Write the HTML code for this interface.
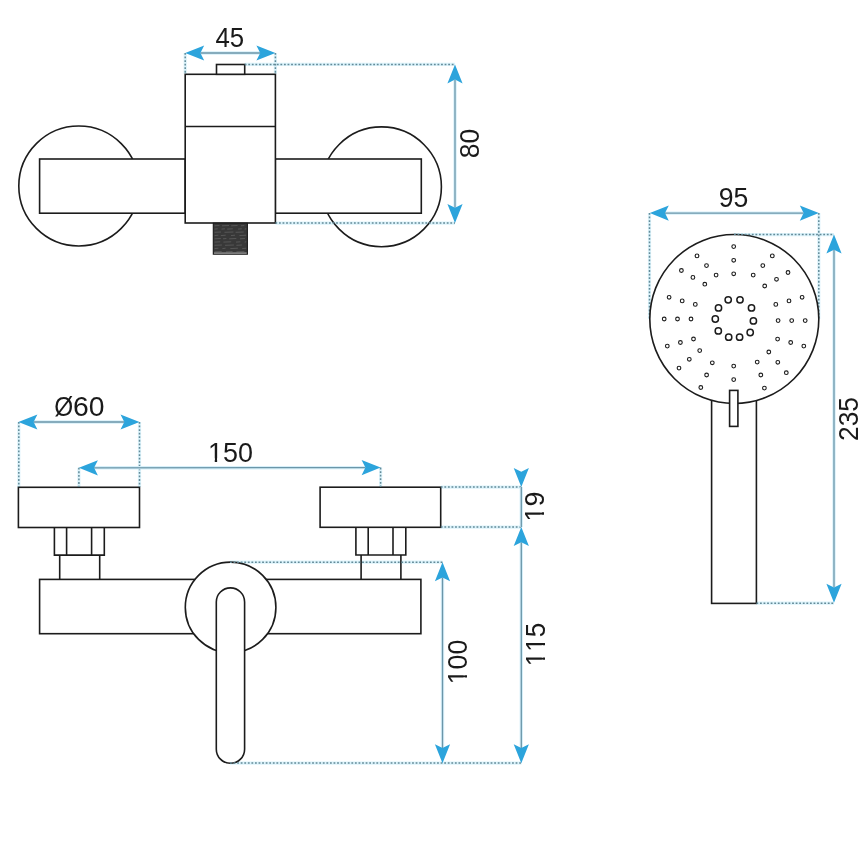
<!DOCTYPE html>
<html><head><meta charset="utf-8"><style>
html,body{margin:0;padding:0;background:#fff;width:868px;height:868px;overflow:hidden}
svg{display:block;will-change:transform}
text{font-family:"Liberation Sans",sans-serif}
</style></head><body>
<svg width="868" height="868" viewBox="0 0 868 868">
<line x1="185.2" y1="53" x2="185.2" y2="74" stroke="#dcf3fb" stroke-width="3.2"/><line x1="275.4" y1="53" x2="275.4" y2="74" stroke="#dcf3fb" stroke-width="3.2"/><line x1="244.7" y1="64.4" x2="455" y2="64.4" stroke="#dcf3fb" stroke-width="3.2"/><line x1="275.4" y1="223.1" x2="455" y2="223.1" stroke="#dcf3fb" stroke-width="3.2"/><line x1="649.5" y1="213" x2="649.5" y2="319" stroke="#dcf3fb" stroke-width="3.2"/><line x1="818.8" y1="213" x2="818.8" y2="319" stroke="#dcf3fb" stroke-width="3.2"/><line x1="734" y1="234.6" x2="834" y2="234.6" stroke="#dcf3fb" stroke-width="3.2"/><line x1="756.4" y1="603.2" x2="834" y2="603.2" stroke="#dcf3fb" stroke-width="3.2"/><line x1="18.8" y1="422" x2="18.8" y2="487" stroke="#dcf3fb" stroke-width="3.2"/><line x1="139.5" y1="422" x2="139.5" y2="487" stroke="#dcf3fb" stroke-width="3.2"/><line x1="78.9" y1="467.8" x2="78.9" y2="487" stroke="#dcf3fb" stroke-width="3.2"/><line x1="380.6" y1="467.6" x2="380.6" y2="487" stroke="#dcf3fb" stroke-width="3.2"/><line x1="440.8" y1="487.1" x2="521.1" y2="487.1" stroke="#dcf3fb" stroke-width="3.2"/><line x1="440.8" y1="527.1" x2="521.1" y2="527.1" stroke="#dcf3fb" stroke-width="3.2"/><line x1="230" y1="562.2" x2="442.5" y2="562.2" stroke="#dcf3fb" stroke-width="3.2"/><line x1="230" y1="763.1" x2="521.5" y2="763.1" stroke="#dcf3fb" stroke-width="3.2"/>
<circle cx="78.8" cy="186.0" r="60.0" fill="none" stroke="#1c1c1c" stroke-width="1.6"/>
<circle cx="381.5" cy="186.8" r="59.9" fill="none" stroke="#1c1c1c" stroke-width="1.6"/>
<rect x="39.6" y="159.0" width="145.6" height="54.2" fill="#fff" stroke="#1c1c1c" stroke-width="1.6"/>
<rect x="275.3" y="159.0" width="146.0" height="54.2" fill="#fff" stroke="#1c1c1c" stroke-width="1.6"/>
<rect x="185.2" y="74.3" width="90.2" height="148.7" fill="#fff" stroke="#1c1c1c" stroke-width="1.6"/>
<line x1="185.2" y1="126.5" x2="275.4" y2="126.5" stroke="#1c1c1c" stroke-width="1.6" />
<rect x="216.5" y="64.5" width="28.2" height="9.8" fill="#fff" stroke="#1c1c1c" stroke-width="1.6"/>
<rect x="213.3" y="223.2" width="34.1" height="31" fill="#383838" stroke="#1c1c1c" stroke-width="1.1"/>
<line x1="214.5" y1="225.8" x2="219.4" y2="225.5" stroke="#5e5e5e" stroke-width="0.8"/>
<line x1="222.0" y1="225.8" x2="229.0" y2="225.5" stroke="#5e5e5e" stroke-width="0.8"/>
<line x1="231.2" y1="225.8" x2="237.5" y2="225.5" stroke="#5e5e5e" stroke-width="0.8"/>
<line x1="240.9" y1="225.8" x2="244.3" y2="225.5" stroke="#5e5e5e" stroke-width="0.8"/>
<line x1="214.5" y1="229.1" x2="217.7" y2="228.8" stroke="#5e5e5e" stroke-width="0.8"/>
<line x1="221.5" y1="229.1" x2="224.9" y2="228.8" stroke="#5e5e5e" stroke-width="0.8"/>
<line x1="227.2" y1="229.1" x2="232.8" y2="228.8" stroke="#5e5e5e" stroke-width="0.8"/>
<line x1="238.1" y1="229.1" x2="241.8" y2="228.8" stroke="#5e5e5e" stroke-width="0.8"/>
<line x1="244.7" y1="229.1" x2="246.3" y2="228.8" stroke="#5e5e5e" stroke-width="0.8"/>
<line x1="214.5" y1="232.3" x2="221.0" y2="232.0" stroke="#5e5e5e" stroke-width="0.8"/>
<line x1="224.5" y1="232.3" x2="233.4" y2="232.0" stroke="#5e5e5e" stroke-width="0.8"/>
<line x1="235.6" y1="232.3" x2="243.7" y2="232.0" stroke="#5e5e5e" stroke-width="0.8"/>
<line x1="214.5" y1="235.6" x2="218.4" y2="235.2" stroke="#5e5e5e" stroke-width="0.8"/>
<line x1="220.8" y1="235.6" x2="225.7" y2="235.2" stroke="#5e5e5e" stroke-width="0.8"/>
<line x1="231.0" y1="235.6" x2="235.0" y2="235.2" stroke="#5e5e5e" stroke-width="0.8"/>
<line x1="239.4" y1="235.6" x2="246.2" y2="235.2" stroke="#5e5e5e" stroke-width="0.8"/>
<line x1="214.5" y1="238.8" x2="220.8" y2="238.5" stroke="#5e5e5e" stroke-width="0.8"/>
<line x1="223.0" y1="238.8" x2="226.4" y2="238.5" stroke="#5e5e5e" stroke-width="0.8"/>
<line x1="229.2" y1="238.8" x2="236.3" y2="238.5" stroke="#5e5e5e" stroke-width="0.8"/>
<line x1="240.0" y1="238.8" x2="244.9" y2="238.5" stroke="#5e5e5e" stroke-width="0.8"/>
<line x1="214.5" y1="242.1" x2="220.2" y2="241.8" stroke="#5e5e5e" stroke-width="0.8"/>
<line x1="223.4" y1="242.1" x2="231.2" y2="241.8" stroke="#5e5e5e" stroke-width="0.8"/>
<line x1="236.0" y1="242.1" x2="240.4" y2="241.8" stroke="#5e5e5e" stroke-width="0.8"/>
<line x1="244.7" y1="242.1" x2="246.3" y2="241.8" stroke="#5e5e5e" stroke-width="0.8"/>
<line x1="214.5" y1="245.3" x2="221.9" y2="245.0" stroke="#5e5e5e" stroke-width="0.8"/>
<line x1="225.0" y1="245.3" x2="233.9" y2="245.0" stroke="#5e5e5e" stroke-width="0.8"/>
<line x1="236.4" y1="245.3" x2="241.9" y2="245.0" stroke="#5e5e5e" stroke-width="0.8"/>
<line x1="214.5" y1="248.6" x2="218.4" y2="248.2" stroke="#5e5e5e" stroke-width="0.8"/>
<line x1="222.4" y1="248.6" x2="225.6" y2="248.2" stroke="#5e5e5e" stroke-width="0.8"/>
<line x1="230.3" y1="248.6" x2="237.9" y2="248.2" stroke="#5e5e5e" stroke-width="0.8"/>
<line x1="242.2" y1="248.6" x2="246.3" y2="248.2" stroke="#5e5e5e" stroke-width="0.8"/>
<line x1="214.5" y1="251.8" x2="221.7" y2="251.5" stroke="#5e5e5e" stroke-width="0.8"/>
<line x1="226.0" y1="251.8" x2="232.5" y2="251.5" stroke="#5e5e5e" stroke-width="0.8"/>
<line x1="236.4" y1="251.8" x2="244.4" y2="251.5" stroke="#5e5e5e" stroke-width="0.8"/>
<line x1="214" y1="253.1" x2="246.7" y2="253.1" stroke="#eeeeee" stroke-width="0.7"/>
<line x1="185.2" y1="53" x2="185.2" y2="74" stroke="#638a98" stroke-width="1.5" stroke-dasharray="1.8 1.77"/>
<line x1="275.4" y1="53" x2="275.4" y2="74" stroke="#638a98" stroke-width="1.5" stroke-dasharray="1.8 1.77"/>
<line x1="200.39999999999998" y1="53.0" x2="260.2" y2="53.0" stroke="#d6eff9" stroke-width="3.4" />
<line x1="200.39999999999998" y1="53.0" x2="260.2" y2="53.0" stroke="#6b96a9" stroke-width="1.3" />
<path d="M185.20,53.00 L204.20,45.40 L200.40,53.00 L204.20,60.60Z" fill="#2ca4dc"/>
<path d="M275.40,53.00 L256.40,60.60 L260.20,53.00 L256.40,45.40Z" fill="#2ca4dc"/>
<line x1="244.7" y1="64.4" x2="455" y2="64.4" stroke="#638a98" stroke-width="1.5" stroke-dasharray="1.8 1.77"/>
<line x1="275.4" y1="223.1" x2="455" y2="223.1" stroke="#638a98" stroke-width="1.5" stroke-dasharray="1.8 1.77"/>
<line x1="455.0" y1="79.60000000000001" x2="455.0" y2="207.8" stroke="#d6eff9" stroke-width="3.4" />
<line x1="455.0" y1="79.60000000000001" x2="455.0" y2="207.8" stroke="#6b96a9" stroke-width="1.3" />
<path d="M455.00,64.40 L462.60,83.40 L455.00,79.60 L447.40,83.40Z" fill="#2ca4dc"/>
<path d="M455.00,223.00 L447.40,204.00 L455.00,207.80 L462.60,204.00Z" fill="#2ca4dc"/>
<line x1="649.5" y1="213" x2="649.5" y2="319" stroke="#638a98" stroke-width="1.5" stroke-dasharray="1.8 1.77"/>
<line x1="818.8" y1="213" x2="818.8" y2="319" stroke="#638a98" stroke-width="1.5" stroke-dasharray="1.8 1.77"/>
<line x1="665.0" y1="213.1" x2="803.5999999999999" y2="213.1" stroke="#d6eff9" stroke-width="3.4" />
<line x1="665.0" y1="213.1" x2="803.5999999999999" y2="213.1" stroke="#6b96a9" stroke-width="1.3" />
<path d="M649.80,213.10 L668.80,205.50 L665.00,213.10 L668.80,220.70Z" fill="#2ca4dc"/>
<path d="M818.80,213.10 L799.80,220.70 L803.60,213.10 L799.80,205.50Z" fill="#2ca4dc"/>
<rect x="711.6" y="380" width="44.8" height="223.4" fill="#fff" stroke="#1c1c1c" stroke-width="1.6"/>
<circle cx="734.3" cy="319.0" r="84.5" fill="#fff" stroke="#1c1c1c" stroke-width="1.6"/>
<rect x="729.6" y="390.4" width="8.3" height="36" fill="#fff" stroke="#1c1c1c" stroke-width="1.6"/>
<line x1="734" y1="234.6" x2="834" y2="234.6" stroke="#638a98" stroke-width="1.5" stroke-dasharray="1.8 1.77"/>
<line x1="756.4" y1="603.2" x2="834" y2="603.2" stroke="#638a98" stroke-width="1.5" stroke-dasharray="1.8 1.77"/>
<line x1="834.0" y1="249.79999999999998" x2="834.0" y2="587.5999999999999" stroke="#d6eff9" stroke-width="3.4" />
<line x1="834.0" y1="249.79999999999998" x2="834.0" y2="587.5999999999999" stroke="#6b96a9" stroke-width="1.3" />
<path d="M834.00,234.60 L841.60,253.60 L834.00,249.80 L826.40,253.60Z" fill="#2ca4dc"/>
<path d="M834.00,602.80 L826.40,583.80 L834.00,587.60 L841.60,583.80Z" fill="#2ca4dc"/>
<circle cx="733.7" cy="246.6" r="1.85" fill="none" stroke="#1c1c1c" stroke-width="1.1"/>
<circle cx="733.7" cy="260.3" r="1.85" fill="none" stroke="#1c1c1c" stroke-width="1.1"/>
<circle cx="733.7" cy="273.8" r="1.85" fill="none" stroke="#1c1c1c" stroke-width="1.1"/>
<circle cx="697.0" cy="255.9" r="1.85" fill="none" stroke="#1c1c1c" stroke-width="1.1"/>
<circle cx="706.5" cy="265.6" r="1.85" fill="none" stroke="#1c1c1c" stroke-width="1.1"/>
<circle cx="716.1" cy="275.1" r="1.85" fill="none" stroke="#1c1c1c" stroke-width="1.1"/>
<circle cx="681.4" cy="270.5" r="1.85" fill="none" stroke="#1c1c1c" stroke-width="1.1"/>
<circle cx="692.9" cy="277.4" r="1.85" fill="none" stroke="#1c1c1c" stroke-width="1.1"/>
<circle cx="704.8" cy="284.2" r="1.85" fill="none" stroke="#1c1c1c" stroke-width="1.1"/>
<circle cx="669.1" cy="297.3" r="1.85" fill="none" stroke="#1c1c1c" stroke-width="1.1"/>
<circle cx="682.2" cy="300.9" r="1.85" fill="none" stroke="#1c1c1c" stroke-width="1.1"/>
<circle cx="695.3" cy="304.4" r="1.85" fill="none" stroke="#1c1c1c" stroke-width="1.1"/>
<circle cx="664.2" cy="319.0" r="1.85" fill="none" stroke="#1c1c1c" stroke-width="1.1"/>
<circle cx="677.5" cy="319.0" r="1.85" fill="none" stroke="#1c1c1c" stroke-width="1.1"/>
<circle cx="691.0" cy="319.0" r="1.85" fill="none" stroke="#1c1c1c" stroke-width="1.1"/>
<circle cx="772.3" cy="255.9" r="1.85" fill="none" stroke="#1c1c1c" stroke-width="1.1"/>
<circle cx="762.8" cy="265.6" r="1.85" fill="none" stroke="#1c1c1c" stroke-width="1.1"/>
<circle cx="753.2" cy="275.1" r="1.85" fill="none" stroke="#1c1c1c" stroke-width="1.1"/>
<circle cx="788.0" cy="272.5" r="1.85" fill="none" stroke="#1c1c1c" stroke-width="1.1"/>
<circle cx="776.5" cy="279.3" r="1.85" fill="none" stroke="#1c1c1c" stroke-width="1.1"/>
<circle cx="764.7" cy="286.0" r="1.85" fill="none" stroke="#1c1c1c" stroke-width="1.1"/>
<circle cx="802.1" cy="297.3" r="1.85" fill="none" stroke="#1c1c1c" stroke-width="1.1"/>
<circle cx="789.0" cy="300.9" r="1.85" fill="none" stroke="#1c1c1c" stroke-width="1.1"/>
<circle cx="775.8" cy="304.4" r="1.85" fill="none" stroke="#1c1c1c" stroke-width="1.1"/>
<circle cx="805.2" cy="320.6" r="1.85" fill="none" stroke="#1c1c1c" stroke-width="1.1"/>
<circle cx="791.7" cy="320.6" r="1.85" fill="none" stroke="#1c1c1c" stroke-width="1.1"/>
<circle cx="778.1" cy="320.6" r="1.85" fill="none" stroke="#1c1c1c" stroke-width="1.1"/>
<circle cx="667.3" cy="346.1" r="1.85" fill="none" stroke="#1c1c1c" stroke-width="1.1"/>
<circle cx="680.4" cy="342.5" r="1.85" fill="none" stroke="#1c1c1c" stroke-width="1.1"/>
<circle cx="693.5" cy="339.0" r="1.85" fill="none" stroke="#1c1c1c" stroke-width="1.1"/>
<circle cx="679.0" cy="368.1" r="1.85" fill="none" stroke="#1c1c1c" stroke-width="1.1"/>
<circle cx="689.3" cy="359.3" r="1.85" fill="none" stroke="#1c1c1c" stroke-width="1.1"/>
<circle cx="699.7" cy="350.6" r="1.85" fill="none" stroke="#1c1c1c" stroke-width="1.1"/>
<circle cx="700.8" cy="387.5" r="1.85" fill="none" stroke="#1c1c1c" stroke-width="1.1"/>
<circle cx="706.6" cy="375.0" r="1.85" fill="none" stroke="#1c1c1c" stroke-width="1.1"/>
<circle cx="712.3" cy="362.8" r="1.85" fill="none" stroke="#1c1c1c" stroke-width="1.1"/>
<circle cx="733.7" cy="366.1" r="1.85" fill="none" stroke="#1c1c1c" stroke-width="1.1"/>
<circle cx="733.7" cy="379.6" r="1.85" fill="none" stroke="#1c1c1c" stroke-width="1.1"/>
<circle cx="777.6" cy="339.1" r="1.85" fill="none" stroke="#1c1c1c" stroke-width="1.1"/>
<circle cx="790.7" cy="342.5" r="1.85" fill="none" stroke="#1c1c1c" stroke-width="1.1"/>
<circle cx="803.8" cy="346.1" r="1.85" fill="none" stroke="#1c1c1c" stroke-width="1.1"/>
<circle cx="768.8" cy="352.0" r="1.85" fill="none" stroke="#1c1c1c" stroke-width="1.1"/>
<circle cx="777.8" cy="362.3" r="1.85" fill="none" stroke="#1c1c1c" stroke-width="1.1"/>
<circle cx="786.3" cy="372.7" r="1.85" fill="none" stroke="#1c1c1c" stroke-width="1.1"/>
<circle cx="757.2" cy="362.1" r="1.85" fill="none" stroke="#1c1c1c" stroke-width="1.1"/>
<circle cx="760.8" cy="375.0" r="1.85" fill="none" stroke="#1c1c1c" stroke-width="1.1"/>
<circle cx="764.4" cy="388.1" r="1.85" fill="none" stroke="#1c1c1c" stroke-width="1.1"/>
<circle cx="728.2" cy="299.8" r="3.15" fill="none" stroke="#1c1c1c" stroke-width="1.5"/>
<circle cx="740.0" cy="299.8" r="3.15" fill="none" stroke="#1c1c1c" stroke-width="1.5"/>
<circle cx="718.5" cy="307.9" r="3.15" fill="none" stroke="#1c1c1c" stroke-width="1.5"/>
<circle cx="751.5" cy="307.9" r="3.15" fill="none" stroke="#1c1c1c" stroke-width="1.5"/>
<circle cx="715.3" cy="319.0" r="3.15" fill="none" stroke="#1c1c1c" stroke-width="1.5"/>
<circle cx="753.4" cy="320.9" r="3.15" fill="none" stroke="#1c1c1c" stroke-width="1.5"/>
<circle cx="718.3" cy="330.9" r="3.15" fill="none" stroke="#1c1c1c" stroke-width="1.5"/>
<circle cx="750.2" cy="332.5" r="3.15" fill="none" stroke="#1c1c1c" stroke-width="1.5"/>
<circle cx="728.7" cy="337.2" r="3.15" fill="none" stroke="#1c1c1c" stroke-width="1.5"/>
<circle cx="739.6" cy="337.2" r="3.15" fill="none" stroke="#1c1c1c" stroke-width="1.5"/>
<rect x="18.4" y="487.3" width="121.1" height="40.2" fill="#fff" stroke="#1c1c1c" stroke-width="1.6"/>
<rect x="320.1" y="487.2" width="120.6" height="40.1" fill="#fff" stroke="#1c1c1c" stroke-width="1.6"/>
<path d="M54.4,527.3 V555.1 H104.3 V527.3" fill="none" stroke="#1c1c1c" stroke-width="1.6" stroke-linejoin="miter"/>
<line x1="66.6" y1="527.3" x2="66.6" y2="555.1" stroke="#1c1c1c" stroke-width="1.6" />
<line x1="91.6" y1="527.3" x2="91.6" y2="555.1" stroke="#1c1c1c" stroke-width="1.6" />
<path d="M59.7,555.1 V579.4 M99.7,555.1 V579.4" fill="none" stroke="#1c1c1c" stroke-width="1.6" stroke-linejoin="miter"/>
<path d="M355.9,527.3 V555.0 H405.8 V527.3" fill="none" stroke="#1c1c1c" stroke-width="1.6" stroke-linejoin="miter"/>
<line x1="368.2" y1="527.3" x2="368.2" y2="555.0" stroke="#1c1c1c" stroke-width="1.6" />
<line x1="393.0" y1="527.3" x2="393.0" y2="555.0" stroke="#1c1c1c" stroke-width="1.6" />
<path d="M361.1,555.0 V579.4 M400.9,555.0 V579.4" fill="none" stroke="#1c1c1c" stroke-width="1.6" stroke-linejoin="miter"/>
<rect x="39.6" y="579.4" width="381.3" height="54.3" fill="#fff" stroke="#1c1c1c" stroke-width="1.6"/>
<circle cx="230.6" cy="607.4" r="45.3" fill="#fff" stroke="#1c1c1c" stroke-width="1.6"/>
<rect x="216.3" y="587.9" width="28.3" height="175.4" rx="14.15" ry="14.15" fill="#fff" stroke="#1c1c1c" stroke-width="1.6"/>
<line x1="18.8" y1="422" x2="18.8" y2="487" stroke="#638a98" stroke-width="1.5" stroke-dasharray="1.8 1.77"/>
<line x1="139.5" y1="422" x2="139.5" y2="487" stroke="#638a98" stroke-width="1.5" stroke-dasharray="1.8 1.77"/>
<line x1="33.599999999999994" y1="422.0" x2="124.3" y2="422.0" stroke="#d6eff9" stroke-width="3.4" />
<line x1="33.599999999999994" y1="422.0" x2="124.3" y2="422.0" stroke="#6b96a9" stroke-width="1.3" />
<path d="M18.40,422.00 L37.40,414.40 L33.60,422.00 L37.40,429.60Z" fill="#2ca4dc"/>
<path d="M139.50,422.00 L120.50,429.60 L124.30,422.00 L120.50,414.40Z" fill="#2ca4dc"/>
<line x1="78.9" y1="467.8" x2="78.9" y2="487" stroke="#638a98" stroke-width="1.5" stroke-dasharray="1.8 1.77"/>
<line x1="380.6" y1="467.6" x2="380.6" y2="487" stroke="#638a98" stroke-width="1.5" stroke-dasharray="1.8 1.77"/>
<line x1="94.09999666018186" y1="467.7899237675438" x2="365.40000333981817" y2="467.6100762324562" stroke="#d6eff9" stroke-width="3.4" />
<line x1="94.09999666018186" y1="467.7899237675438" x2="365.40000333981817" y2="467.6100762324562" stroke="#6b96a9" stroke-width="1.3" />
<path d="M78.90,467.80 L97.89,460.19 L94.10,467.79 L97.91,475.39Z" fill="#2ca4dc"/>
<path d="M380.60,467.60 L361.61,475.21 L365.40,467.61 L361.59,460.01Z" fill="#2ca4dc"/>
<line x1="440.8" y1="487.1" x2="521.1" y2="487.1" stroke="#638a98" stroke-width="1.5" stroke-dasharray="1.8 1.77"/>
<line x1="440.8" y1="527.1" x2="521.1" y2="527.1" stroke="#638a98" stroke-width="1.5" stroke-dasharray="1.8 1.77"/>
<line x1="230" y1="562.2" x2="442.5" y2="562.2" stroke="#638a98" stroke-width="1.5" stroke-dasharray="1.8 1.77"/>
<line x1="230" y1="763.1" x2="521.5" y2="763.1" stroke="#638a98" stroke-width="1.5" stroke-dasharray="1.8 1.77"/>
<line x1="442.5" y1="577.4000000000001" x2="442.5" y2="748.0" stroke="#d6eff9" stroke-width="3.4" />
<line x1="442.5" y1="577.4000000000001" x2="442.5" y2="748.0" stroke="#6b96a9" stroke-width="1.3" />
<path d="M442.50,562.20 L450.10,581.20 L442.50,577.40 L434.90,581.20Z" fill="#2ca4dc"/>
<path d="M442.50,763.20 L434.90,744.20 L442.50,748.00 L450.10,744.20Z" fill="#2ca4dc"/>
<line x1="521.3" y1="542.3000000000001" x2="521.3" y2="748.0" stroke="#d6eff9" stroke-width="3.4" />
<line x1="521.3" y1="542.3000000000001" x2="521.3" y2="748.0" stroke="#6b96a9" stroke-width="1.3" />
<path d="M521.30,527.10 L528.90,546.10 L521.30,542.30 L513.70,546.10Z" fill="#2ca4dc"/>
<path d="M521.30,763.20 L513.70,744.20 L521.30,748.00 L528.90,744.20Z" fill="#2ca4dc"/>
<path d="M521.30,487.00 L513.70,468.00 L521.30,471.80 L528.90,468.00Z" fill="#2ca4dc"/>
<line x1="521.3" y1="487" x2="521.3" y2="527.1" stroke="#d6eff9" stroke-width="3.4" />
<line x1="521.3" y1="487" x2="521.3" y2="527.1" stroke="#6b96a9" stroke-width="1.3" />
<defs><clipPath id="one" clipPathUnits="userSpaceOnUse"><rect x="-5.40" y="-32.40" width="27.00" height="28.89"/><rect x="6.76" y="-5.40" width="2.38" height="10.80"/></clipPath></defs>
<g transform="translate(215.42 47.14) scale(0.9558 1.0453)"><text x="0.00" y="0" font-size="27" fill="#1a1a1a">4</text><text x="15.02" y="0" font-size="27" fill="#1a1a1a">5</text></g>
<g transform="translate(478.85 158.13) rotate(-90) scale(0.9802 1.0105)"><text x="0.00" y="0" font-size="27" fill="#1a1a1a">8</text><text x="15.02" y="0" font-size="27" fill="#1a1a1a">0</text></g>
<g transform="translate(718.67 207.34) scale(0.9855 1.0316)"><text x="0.00" y="0" font-size="27" fill="#1a1a1a">9</text><text x="15.02" y="0" font-size="27" fill="#1a1a1a">5</text></g>
<g transform="translate(54.25 416.22) scale(1.0492 1.0450)"><g transform="translate(0.00 0) scale(0.86 1)"><text x="0" y="0" font-size="27" fill="#1a1a1a">Ø</text></g><text x="17.82" y="0" font-size="27" fill="#1a1a1a">6</text><text x="32.84" y="0" font-size="27" fill="#1a1a1a">0</text></g>
<g transform="translate(208.01 461.75) scale(0.9976 1.0158)"><g transform="translate(0.00 0)"><text x="0" y="0" font-size="27" fill="#1a1a1a" clip-path="url(#one)">1</text></g><text x="15.02" y="0" font-size="27" fill="#1a1a1a">5</text><text x="30.03" y="0" font-size="27" fill="#1a1a1a">0</text></g>
<g transform="translate(543.74 521.39) rotate(-90) scale(0.9943 1.0211)"><g transform="translate(0.00 0)"><text x="0" y="0" font-size="27" fill="#1a1a1a" clip-path="url(#one)">1</text></g><text x="15.02" y="0" font-size="27" fill="#1a1a1a">9</text></g>
<g transform="translate(467.04 684.27) rotate(-90) scale(0.9880 1.0211)"><g transform="translate(0.00 0)"><text x="0" y="0" font-size="27" fill="#1a1a1a" clip-path="url(#one)">1</text></g><text x="15.02" y="0" font-size="27" fill="#1a1a1a">0</text><text x="30.03" y="0" font-size="27" fill="#1a1a1a">0</text></g>
<g transform="translate(545.44 666.21) rotate(-90) scale(0.9648 1.0400)"><g transform="translate(0.00 0)"><text x="0" y="0" font-size="27" fill="#1a1a1a" clip-path="url(#one)">1</text></g><g transform="translate(15.02 0)"><text x="0" y="0" font-size="27" fill="#1a1a1a" clip-path="url(#one)">1</text></g><text x="30.03" y="0" font-size="27" fill="#1a1a1a">5</text></g>
<g transform="translate(857.75 441.02) rotate(-90) scale(0.9788 1.0000)"><text x="0.00" y="0" font-size="27" fill="#1a1a1a">2</text><text x="15.02" y="0" font-size="27" fill="#1a1a1a">3</text><text x="30.03" y="0" font-size="27" fill="#1a1a1a">5</text></g>
</svg>
</body></html>
